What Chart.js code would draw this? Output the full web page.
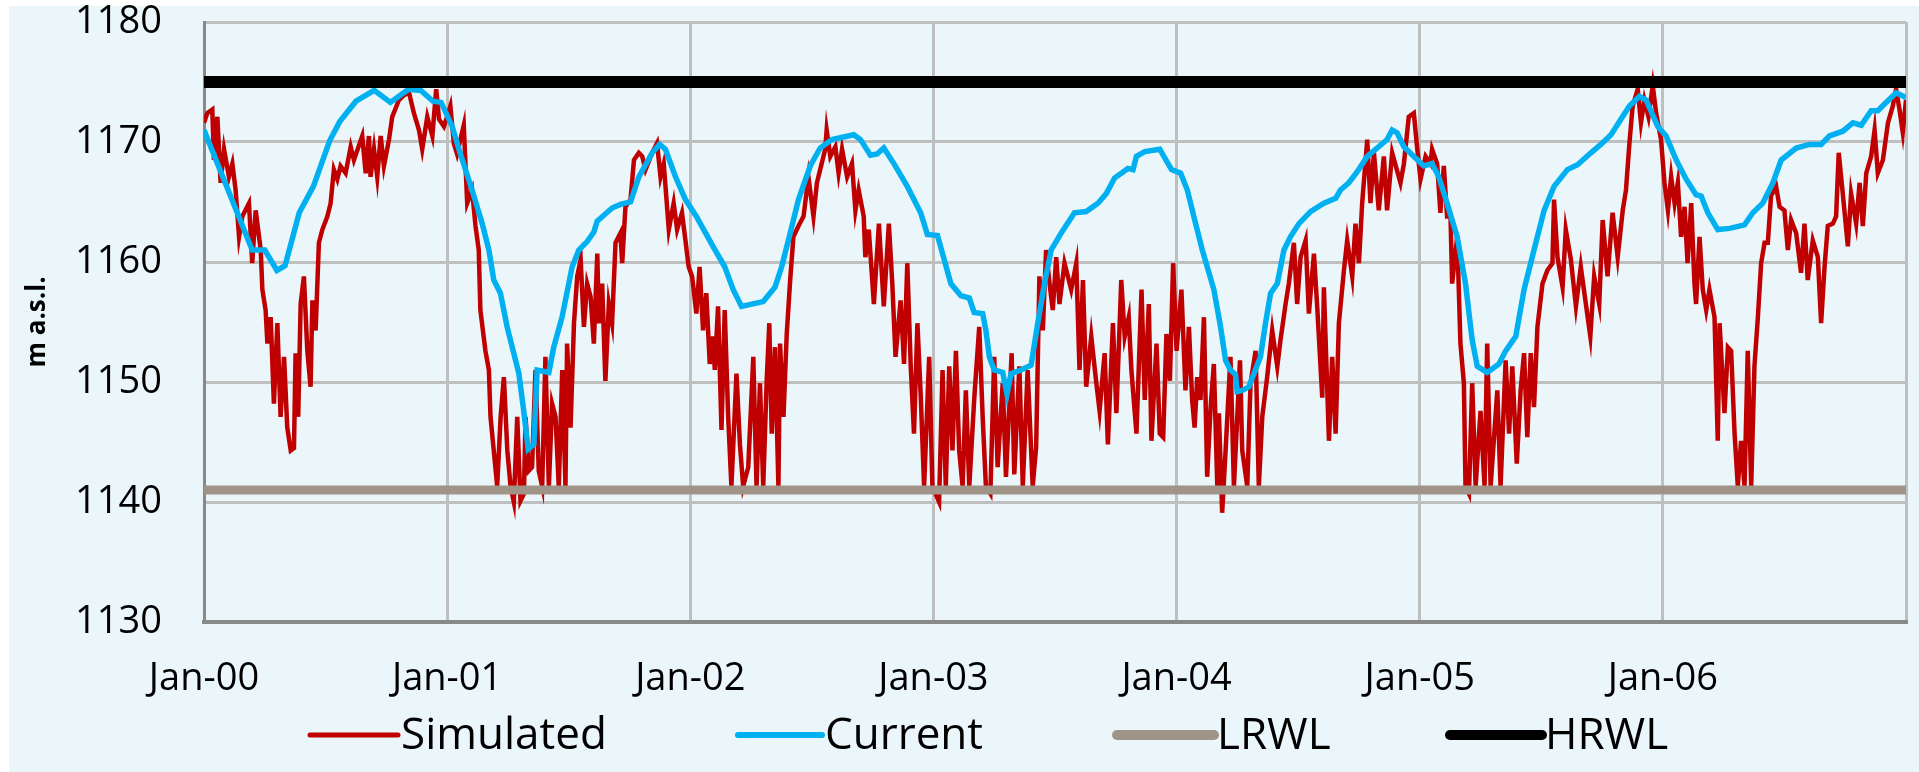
<!DOCTYPE html>
<html>
<head>
<meta charset="utf-8">
<script src="https://cdn.jsdelivr.net/npm/chart.js@4.4.0/dist/chart.umd.min.js"></script>
<style>
html,body{margin:0;padding:0;background:#ffffff;}
#wrap{width:1919px;height:772px;position:relative;}
</style>
</head>
<body>
<div id="wrap"><canvas id="c" width="1919" height="772"></canvas></div>
<script>
// ---- DATA (x = months since Jan-2000, y = m a.s.l.) ----
const xTickLabels = ['Jan-00','Jan-01','Jan-02','Jan-03','Jan-04','Jan-05','Jan-06'];
const seriesNames = ['Simulated','Current','LRWL','HRWL'];
const lrwlLevel = 1141;
const hrwlLevel = 1175;

const sim2000 = [[0.00,1171.6],[0.16,1172.4],[0.41,1172.7],[0.49,1168.5],[0.66,1172.1],[0.82,1166.6],[0.99,1169.4],[1.23,1167.1],[1.40,1168.2],[1.56,1166.0],[1.73,1162.1],[1.89,1163.8],[2.22,1164.9],[2.38,1159.9],[2.55,1164.3],[2.80,1161.0],[2.88,1157.7],[3.04,1156.0],[3.13,1153.2],[3.29,1155.4],[3.45,1148.2],[3.62,1154.9],[3.78,1147.1],[3.95,1152.1],[4.11,1146.2],[4.28,1144.3],[4.44,1144.5],[4.52,1152.4],[4.65,1147.1],[4.77,1156.5],[4.93,1158.8],[5.10,1152.6],[5.26,1149.6],[5.35,1156.8],[5.51,1154.3],[5.67,1161.6],[5.84,1162.7],[6.09,1163.8],[6.25,1164.9],[6.41,1167.7],[6.58,1166.9],[6.74,1168.0],[6.99,1167.4],[7.24,1169.6],[7.40,1168.5],[7.81,1170.5],[7.98,1167.4],[8.14,1170.5],[8.22,1167.1],[8.39,1169.4],[8.55,1167.1],[8.72,1170.5],[8.88,1168.0],[9.13,1170.2],[9.29,1172.1],[9.62,1173.5],[9.87,1173.9],[10.12,1174.1],[10.36,1172.4],[10.61,1171.0],[10.77,1169.4],[11.02,1172.1],[11.27,1170.5],[11.46,1174.4],[11.60,1171.9],[11.84,1171.3]];
const sim2001 = [[12.00,1172.1],[12.16,1173.0],[12.33,1169.9],[12.49,1169.0],[12.82,1171.4],[12.99,1164.9],[13.23,1166.0],[13.40,1163.0],[13.56,1161.0],[13.64,1156.0],[13.89,1152.6],[14.06,1151.0],[14.14,1147.1],[14.30,1144.3],[14.47,1141.3],[14.64,1147.1],[14.80,1150.4],[14.97,1144.3],[15.13,1141.3],[15.29,1140.0],[15.46,1147.1],[15.62,1140.1],[15.79,1140.7],[15.87,1147.1],[16.03,1142.6],[16.19,1142.9],[16.36,1151.0],[16.52,1142.6],[16.69,1141.3],[16.85,1152.1],[17.02,1141.3],[17.18,1148.2],[17.35,1147.1],[17.51,1141.3],[17.68,1151.0],[17.84,1141.3],[17.92,1153.2],[18.09,1146.2],[18.26,1154.9],[18.42,1158.8],[18.59,1160.2],[18.75,1154.6],[18.91,1158.2],[19.08,1157.1],[19.24,1153.2],[19.41,1160.7],[19.49,1154.9],[19.65,1158.2],[19.81,1150.1],[19.98,1156.5],[20.14,1154.9],[20.31,1161.6],[20.55,1162.4],[20.64,1159.9],[20.80,1164.6],[21.05,1165.2],[21.22,1168.5],[21.46,1169.1],[21.63,1168.8],[21.79,1167.7],[22.12,1169.1],[22.36,1169.9],[22.53,1167.1],[22.69,1168.2],[22.94,1162.7],[23.18,1164.9],[23.35,1162.7],[23.59,1164.1],[23.76,1161.8],[23.92,1159.6]];
const sim2002 = [[24.09,1158.8],[24.30,1155.7],[24.46,1159.6],[24.63,1154.3],[24.79,1157.4],[24.96,1151.5],[25.12,1153.8],[25.21,1151.0],[25.37,1156.3],[25.54,1146.0],[25.70,1156.0],[25.87,1147.1],[26.03,1141.3],[26.28,1150.7],[26.45,1144.8],[26.61,1141.3],[26.86,1142.9],[27.11,1152.1],[27.27,1141.3],[27.44,1149.9],[27.60,1141.3],[27.77,1150.1],[27.90,1154.9],[28.02,1145.7],[28.18,1152.9],[28.35,1141.3],[28.43,1153.2],[28.60,1147.1],[28.76,1154.0],[28.93,1158.5],[29.09,1162.1],[29.34,1163.0],[29.59,1163.8],[29.83,1167.1],[30.08,1163.8],[30.25,1166.6],[30.41,1167.7],[30.66,1169.4],[30.73,1171.0],[30.91,1168.8],[31.16,1169.6],[31.32,1167.4],[31.49,1169.4],[31.74,1167.1],[31.98,1168.2],[32.15,1164.3],[32.31,1166.0],[32.56,1163.8],[32.64,1160.4],[32.81,1162.7],[33.06,1156.5],[33.31,1163.2],[33.55,1156.3],[33.80,1163.2],[33.97,1158.2],[34.13,1152.1],[34.38,1156.8],[34.55,1151.5],[34.71,1159.9],[34.88,1151.3],[35.04,1145.7],[35.21,1154.9],[35.37,1149.0],[35.54,1141.3],[35.79,1152.1],[35.95,1141.3]];
const sim2003 = [[36.28,1140.0],[36.45,1151.0],[36.61,1141.3],[36.78,1151.3],[36.94,1144.3],[37.11,1152.6],[37.27,1144.3],[37.44,1141.3],[37.60,1149.3],[37.77,1141.3],[38.01,1148.5],[38.26,1154.6],[38.43,1147.1],[38.59,1141.3],[38.81,1140.7],[39.00,1152.1],[39.17,1142.9],[39.42,1149.9],[39.58,1142.1],[39.86,1152.4],[39.99,1142.3],[40.24,1151.3],[40.41,1141.3],[40.65,1151.0],[40.90,1141.3],[41.07,1144.6],[41.23,1158.8],[41.40,1154.3],[41.56,1161.0],[41.73,1158.2],[41.89,1156.0],[42.06,1160.4],[42.22,1156.5],[42.47,1159.9],[42.80,1157.7],[43.05,1159.9],[43.21,1151.0],[43.38,1158.5],[43.54,1149.6],[43.79,1153.8],[44.04,1149.9],[44.20,1147.6],[44.45,1152.4],[44.61,1144.8],[44.86,1154.9],[45.03,1147.4],[45.27,1158.5],[45.44,1153.8],[45.64,1155.4],[45.77,1151.0],[46.02,1145.7],[46.27,1157.7],[46.43,1148.5],[46.63,1156.5],[46.76,1145.1],[47.01,1153.2],[47.17,1145.7],[47.34,1145.4],[47.50,1154.0],[47.67,1150.1],[47.83,1159.9],[48.00,1152.6],[48.24,1157.7]];
const sim2004 = [[48.44,1149.3],[48.61,1154.6],[48.77,1148.5],[48.89,1146.2],[49.02,1150.4],[49.18,1148.5],[49.35,1155.4],[49.51,1142.1],[49.68,1147.9],[49.84,1151.5],[50.01,1141.3],[50.09,1147.4],[50.25,1139.1],[50.42,1144.3],[50.66,1152.1],[50.83,1141.3],[51.13,1151.8],[51.24,1144.3],[51.49,1141.3],[51.65,1149.9],[51.90,1152.6],[52.06,1141.3],[52.23,1147.1],[52.47,1150.4],[52.72,1154.3],[52.97,1151.3],[53.13,1153.5],[53.38,1156.5],[53.54,1158.2],[53.79,1161.6],[53.95,1156.5],[54.12,1160.4],[54.37,1161.8],[54.53,1155.7],[54.78,1160.7],[54.94,1156.3],[55.19,1148.7],[55.27,1157.9],[55.52,1145.1],[55.68,1152.1],[55.85,1145.7],[56.01,1154.9],[56.26,1159.3],[56.42,1161.8],[56.67,1158.8],[56.83,1163.2],[57.00,1159.9],[57.16,1164.9],[57.41,1170.2],[57.57,1164.9],[57.74,1169.1],[57.98,1164.3],[58.23,1168.8],[58.39,1164.3],[58.64,1169.1],[59.05,1166.6],[59.22,1168.2],[59.46,1172.1],[59.71,1172.4],[59.88,1169.4],[60.04,1166.9],[60.29,1168.8],[60.53,1168.2]];
const sim2005 = [[60.61,1169.4],[60.86,1168.2],[61.02,1164.1],[61.19,1168.0],[61.35,1163.8],[61.52,1163.8],[61.60,1158.2],[61.85,1162.1],[62.01,1153.2],[62.18,1149.9],[62.26,1141.3],[62.43,1140.7],[62.59,1149.9],[62.76,1141.3],[63.00,1147.6],[63.20,1141.3],[63.33,1153.2],[63.50,1141.3],[63.83,1149.3],[63.99,1141.3],[64.24,1151.8],[64.41,1145.7],[64.57,1151.3],[64.79,1143.2],[64.98,1149.3],[65.15,1152.4],[65.31,1145.4],[65.48,1152.4],[65.64,1147.9],[65.81,1154.6],[66.06,1158.2],[66.30,1159.3],[66.55,1159.9],[66.63,1165.2],[66.80,1160.4],[67.05,1157.9],[67.21,1162.7],[67.46,1160.2],[67.71,1156.3],[67.95,1159.6],[68.20,1156.5],[68.42,1153.8],[68.61,1158.8],[68.86,1156.5],[69.03,1163.5],[69.27,1158.8],[69.52,1164.1],[69.77,1160.4],[70.02,1164.3],[70.18,1166.0],[70.35,1169.9],[70.51,1173.0],[70.76,1174.4],[70.92,1171.6],[71.09,1173.5],[71.29,1172.1],[71.50,1174.7],[71.67,1172.4],[71.91,1170.2]];
const sim2006 = [[72.08,1166.6],[72.25,1164.3],[72.41,1167.1],[72.58,1164.9],[72.74,1166.6],[72.90,1162.1],[73.07,1164.6],[73.22,1159.9],[73.40,1164.9],[73.56,1158.2],[73.64,1156.5],[73.81,1162.1],[73.97,1157.7],[74.14,1156.0],[74.30,1157.7],[74.55,1155.4],[74.71,1145.1],[74.80,1154.9],[75.04,1147.4],[75.21,1152.9],[75.37,1152.6],[75.54,1145.7],[75.70,1141.3],[75.86,1145.1],[76.03,1141.3],[76.19,1152.6],[76.36,1141.3],[76.52,1151.3],[76.69,1155.4],[76.85,1159.9],[77.02,1161.6],[77.18,1161.6],[77.34,1165.5],[77.59,1166.3],[77.76,1164.6],[78.00,1164.3],[78.17,1161.0],[78.33,1163.5],[78.58,1162.4],[78.82,1159.1],[78.99,1163.2],[79.15,1158.5],[79.40,1161.8],[79.65,1160.4],[79.81,1154.9],[79.98,1159.6],[80.14,1163.0],[80.39,1163.2],[80.55,1163.8],[80.68,1169.1],[80.88,1165.7],[81.13,1161.3],[81.29,1165.7],[81.54,1163.2],[81.71,1166.6],[81.87,1163.0],[82.04,1167.4],[82.28,1168.8],[82.45,1171.0],[82.61,1167.4],[82.86,1168.5],[83.11,1171.6],[83.35,1173.0],[83.51,1174.4],[83.68,1172.7],[83.84,1170.8],[84.00,1173.5]];

const current = [[0,1171.0],[2.38,1161.0],[3.0,1161.0],[3.6,1159.3],[4.0,1159.7],[4.7,1164.1],[5.4,1166.3],[6.2,1170.1],[6.7,1171.7],[7.5,1173.4],[8.4,1174.3],[9.2,1173.3],[10.1,1174.4],[10.7,1174.3],[11.3,1173.4],[11.7,1173.3],[12.25,1171.3],[12.58,1169.4],[13.23,1166.0],[13.73,1163.2],[14.06,1161.0],[14.30,1158.5],[14.63,1157.4],[14.96,1154.6],[15.54,1150.7],[15.78,1147.6],[16.0,1144.4],[16.28,1144.8],[16.44,1151.0],[17.02,1150.8],[17.26,1152.9],[17.67,1155.4],[18.17,1159.6],[18.50,1161.0],[18.91,1161.7],[19.24,1162.5],[19.40,1163.4],[20.14,1164.5],[20.55,1164.8],[21.05,1165.0],[21.46,1167.1],[22.12,1169.1],[22.48,1169.8],[22.77,1169.4],[23.27,1167.1],[23.76,1165.2],[24.30,1163.8],[25.12,1161.3],[25.70,1159.6],[26.12,1157.7],[26.53,1156.3],[27.60,1156.7],[28.18,1157.9],[28.51,1159.6],[28.93,1162.4],[29.34,1165.2],[29.92,1168.0],[30.41,1169.5],[30.99,1170.2],[32.07,1170.6],[32.40,1170.2],[32.89,1168.9],[33.22,1169.0],[33.55,1169.5],[34.05,1168.2],[34.71,1166.3],[35.37,1164.1],[35.70,1162.3],[36.20,1162.2],[36.53,1160.2],[36.86,1158.2],[37.35,1157.2],[37.77,1157.0],[38.01,1155.8],[38.43,1155.7],[38.59,1154.3],[38.76,1152.1],[39.00,1151.0],[39.42,1150.8],[39.63,1149.0],[39.83,1150.7],[40.32,1151.0],[40.82,1151.4],[41.15,1154.9],[41.48,1158.2],[41.81,1161.0],[42.30,1162.4],[42.96,1164.1],[43.54,1164.2],[44.12,1164.9],[44.53,1165.7],[44.94,1167.0],[45.60,1167.8],[45.85,1167.7],[46.02,1168.8],[46.43,1169.2],[47.17,1169.4],[47.75,1167.7],[48.20,1167.4],[48.53,1166.0],[48.94,1163.2],[49.27,1161.0],[49.51,1159.6],[49.84,1157.7],[50.17,1154.6],[50.42,1151.8],[50.66,1151.0],[50.91,1150.6],[50.99,1149.2],[51.24,1149.3],[51.57,1149.6],[51.82,1150.7],[52.14,1152.1],[52.39,1154.9],[52.64,1157.4],[52.97,1158.2],[53.30,1161.0],[53.62,1162.1],[54.04,1163.2],[54.61,1164.2],[55.27,1164.9],[55.85,1165.3],[56.09,1166.0],[56.50,1166.6],[56.91,1167.5],[57.41,1168.8],[57.90,1169.5],[58.39,1170.2],[58.64,1171.0],[58.89,1170.75],[59.22,1169.6],[59.71,1168.8],[60.20,1168.0],[60.61,1168.2],[60.94,1167.1],[61.35,1164.9],[61.85,1162.1],[62.26,1158.2],[62.59,1153.5],[62.84,1151.3],[63.33,1150.8],[63.91,1151.5],[64.24,1152.6],[64.74,1153.8],[65.15,1157.7],[65.64,1161.0],[66.14,1164.3],[66.63,1166.3],[67.29,1167.7],[67.79,1168.1],[68.45,1169.1],[68.94,1169.8],[69.44,1170.6],[69.93,1171.9],[70.35,1173.0],[70.84,1173.8],[71.17,1173.5],[71.75,1171.3],[72.16,1170.5],[72.66,1168.5],[73.15,1166.9],[73.64,1165.6],[73.89,1165.5],[74.22,1164.1],[74.71,1162.7],[75.29,1162.8],[76.03,1163.1],[76.44,1164.1],[76.93,1164.9],[77.43,1166.6],[77.84,1168.5],[78.58,1169.5],[79.24,1169.8],[79.81,1169.8],[80.22,1170.5],[80.88,1170.9],[81.38,1171.6],[81.79,1171.4],[82.28,1172.6],[82.61,1172.6],[83.02,1173.3],[83.51,1174.1],[84.0,1173.7]];

// ---- build chart ----
const toPts = arr => arr.map(p => ({x: p[0], y: p[1]}));
const simulated = [].concat(sim2000, sim2001, sim2002, sim2003, sim2004, sim2005, sim2006);
const xMax = xTickLabels.length * 12;
const FONT = "'Open Sans', 'Liberation Sans', sans-serif";
const colors = ['#C00000', '#00B0F0', '#A09488', '#000000'];
const legendWidths = [5, 6, 10, 10];

const bgPlugin = {
  id: 'bg',
  beforeDraw(chart) {
    const ctx = chart.ctx;
    ctx.save();
    ctx.fillStyle = '#EBF6FB';
    ctx.fillRect(9, 6, chart.width - 9, chart.height - 6);
    ctx.restore();
  }
};

const legendPlugin = {
  id: 'customLegend',
  afterDraw(chart) {
    const ctx = chart.ctx;
    const y = 735;
    const items = [
      {x0: 310, x1: 398, tx: 401},
      {x0: 738, x1: 822, tx: 825},
      {x0: 1117, x1: 1214, tx: 1217},
      {x0: 1450, x1: 1542, tx: 1545}
    ];
    ctx.save();
    chart.data.datasets.forEach((ds, i) => {
      const it = items[i];
      ctx.strokeStyle = ds.borderColor;
      ctx.lineWidth = legendWidths[i];
      ctx.lineCap = 'round';
      ctx.beginPath();
      ctx.moveTo(it.x0, y);
      ctx.lineTo(it.x1, y);
      ctx.stroke();
      ctx.fillStyle = '#000';
      ctx.font = '44px ' + FONT;
      ctx.textBaseline = 'middle';
      ctx.textAlign = 'left';
      ctx.fillText(ds.label, it.tx, y + 1);
    });
    ctx.restore();
  }
};

new Chart(document.getElementById('c'), {
  type: 'line',
  data: {
    datasets: [
      {label: seriesNames[0], data: toPts(simulated), borderColor: colors[0], borderWidth: 4.5, pointRadius: 0, tension: 0, order: 4},
      {label: seriesNames[1], data: toPts(current), borderColor: colors[1], borderWidth: 5.5, pointRadius: 0, tension: 0, order: 3},
      {label: seriesNames[2], data: [{x: 0, y: lrwlLevel}, {x: xMax, y: lrwlLevel}], borderColor: colors[2], borderWidth: 9, pointRadius: 0, order: 2},
      {label: seriesNames[3], data: [{x: 0, y: hrwlLevel}, {x: xMax, y: hrwlLevel}], borderColor: colors[3], borderWidth: 12, pointRadius: 0, order: 1}
    ]
  },
  options: {
    responsive: false,
    animation: false,
    events: [],
    layout: {padding: {left: 9, top: 22, right: 13, bottom: 74}},
    plugins: {legend: {display: false}, tooltip: {enabled: false}},
    scales: {
      x: {
        type: 'linear', min: 0, max: xMax,
        afterBuildTicks: s => { s.ticks = xTickLabels.map((_, i) => ({value: i * 12})).concat([{value: xMax}]); },
        afterFit: s => { s.height = 76; s.paddingLeft = 0; s.paddingRight = 0; s.paddingTop = 0; s.paddingBottom = 0; },
        grid: {color: '#BFBFBF', lineWidth: 3, drawTicks: false},
        border: {color: '#898989', width: 4},
        ticks: {
          autoSkip: false, maxRotation: 0, minRotation: 0, padding: 38, color: '#000',
          font: {family: FONT, size: 38, lineHeight: 1},
          callback: v => xTickLabels[v / 12] || ''
        }
      },
      y: {
        min: 1130, max: 1180,
        afterFit: s => { s.width = 195; s.paddingTop = 0; s.paddingBottom = 0; s.paddingLeft = 0; s.paddingRight = 0; },
        grid: {color: '#BFBFBF', lineWidth: 3, drawTicks: false},
        border: {color: '#898989', width: 3},
        ticks: {stepSize: 10, padding: 42, color: '#000', font: {family: FONT, size: 38, lineHeight: 1}, callback: v => String(v)},
        title: {display: true, text: 'm a.s.l.', color: '#000', font: {family: FONT, size: 26, weight: 'bold'}, padding: {top: 13, bottom: 0}}
      }
    }
  },
  plugins: [bgPlugin, legendPlugin]
});
</script>
</body>
</html>
